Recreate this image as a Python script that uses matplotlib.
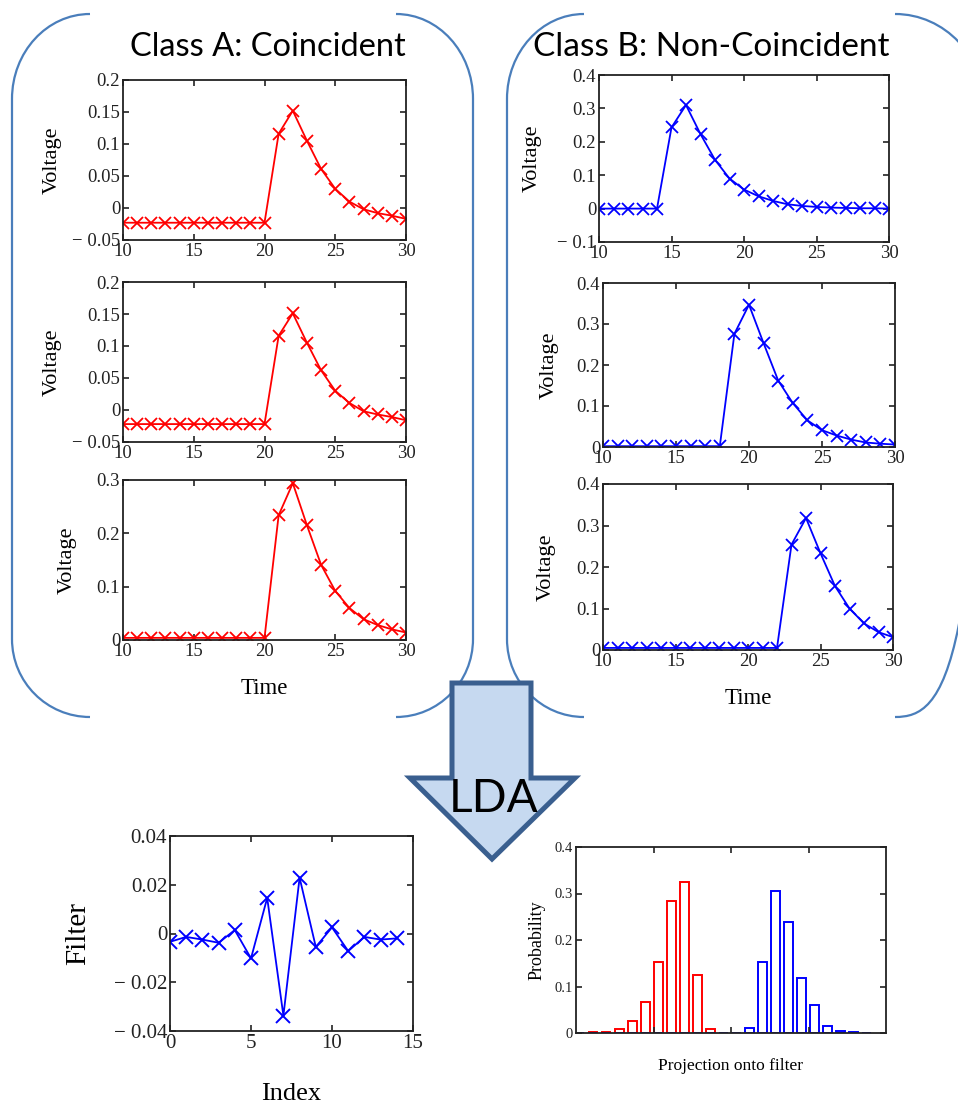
import numpy as np
import matplotlib
matplotlib.use("Agg")
import matplotlib.pyplot as plt
from matplotlib.path import Path
from matplotlib.patches import PathPatch, Polygon

plt.rcParams["font.family"] = ["Liberation Serif", "DejaVu Serif"]

# pulse samples, time steps 10..30
time = list(range(10, 31))
coinc_1 = [-0.023, -0.023, -0.023, -0.023, -0.023, -0.023, -0.023, -0.023, -0.023, -0.023, -0.023,
           0.116, 0.152, 0.105, 0.061, 0.030, 0.010, -0.002, -0.008, -0.012, -0.017]
coinc_2 = [-0.022, -0.022, -0.022, -0.022, -0.022, -0.022, -0.022, -0.022, -0.022, -0.022, -0.022,
           0.116, 0.151, 0.105, 0.062, 0.030, 0.011, -0.002, -0.007, -0.011, -0.016]
coinc_3 = [0.004, 0.004, 0.004, 0.004, 0.004, 0.004, 0.004, 0.004, 0.004, 0.004, 0.004,
           0.234, 0.294, 0.215, 0.141, 0.092, 0.060, 0.039, 0.028, 0.020, 0.014]
noncoinc_1 = [0.0, 0.0, 0.0, 0.0, 0.0,
              0.243, 0.310, 0.223, 0.146, 0.090, 0.057, 0.037, 0.023, 0.013, 0.008,
              0.005, 0.003, 0.002, 0.001, 0.001, 0.0]
noncoinc_2 = [0.002, 0.002, 0.002, 0.002, 0.002, 0.002, 0.002, 0.002, 0.002,
              0.276, 0.347, 0.253, 0.162, 0.107, 0.065, 0.041, 0.028, 0.018, 0.011, 0.008, 0.006]
noncoinc_3 = [0.005, 0.005, 0.005, 0.005, 0.005, 0.005, 0.005, 0.005, 0.005, 0.005, 0.005, 0.005, 0.005,
              0.254, 0.318, 0.233, 0.154, 0.100, 0.064, 0.043, 0.031]

# LDA filter weights
filter_index = list(range(0, 15))
filter_weights = [-0.0034, -0.0014, -0.0025, -0.0038, 0.0014, -0.0102, 0.0146, -0.0337,
                  0.0229, -0.0055, 0.0025, -0.0072, -0.0014, -0.0025, -0.0020]

# histogram of projections, one value per bin
proj_bins = list(range(0, 23))
prob_coinc = [0.0, 0.003, 0.003, 0.008, 0.025, 0.067, 0.152, 0.283, 0.325, 0.124, 0.008,
              0.0, 0.0, 0.0, 0.0, 0.0, 0.0, 0.0, 0.0, 0.0, 0.0, 0.0, 0.0]
prob_noncoinc = [0.0, 0.0, 0.0, 0.0, 0.0, 0.0, 0.0, 0.0, 0.0, 0.0, 0.0, 0.0, 0.0,
                 0.010, 0.152, 0.305, 0.238, 0.119, 0.061, 0.016, 0.005, 0.002, 0.0]

W, H = 958, 1108
fig = plt.figure(figsize=(W / 100, H / 100), dpi=100)

DARK = "#222222"
FRAME_BLUE = "#4A7EBB"
MINUS = "\u2212"


def add_panel(left, top, right, bottom):
    return fig.add_axes([left / W, 1 - bottom / H, (right - left) / W, (bottom - top) / H])


def style(ax, size):
    ax.tick_params(direction="in", top=True, right=True, length=4.5, width=1.2,
                   labelsize=size, pad=2, colors=DARK)
    for s in ax.spines.values():
        s.set_linewidth(1.3)
        s.set_color(DARK)


def fmt(v):
    if v == 0:
        return "0"
    s = "%g" % abs(v)
    return (MINUS + " " + s) if v < 0 else s


def pulse_panel(ax, y, color, ylim, yticks, ylab_x, xlabel=False):
    ax.plot(time, y, color=color, lw=1.3, marker="x", ms=8, mew=1.3)
    ax.set_xlim(10, 30)
    ax.set_ylim(*ylim)
    ax.set_xticks([10, 15, 20, 25, 30], [str(t) for t in [10, 15, 20, 25, 30]])
    ax.set_yticks(yticks, [fmt(v) for v in yticks])
    style(ax, 13.5)
    ax.set_ylabel("Voltage", fontsize=16, va="center")
    ax.yaxis.set_label_coords(ylab_x, 0.5)
    if xlabel:
        ax.set_xlabel("Time", fontsize=16.5, labelpad=13)


# background layer: brackets, titles and the LDA arrow
bg = fig.add_axes([0, 0, 1, 1])
bg.set_xlim(0, W)
bg.set_ylim(H, 0)
bg.axis("off")

K = 0.5523


def bracket(x_edge, x_end, top, bottom, ry_top=85, ry_bot=78):
    rx = x_end - x_edge
    verts = [(x_end, top),
             (x_end - K * rx, top), (x_edge, top + ry_top - K * ry_top), (x_edge, top + ry_top),
             (x_edge, bottom - ry_bot),
             (x_edge, bottom - ry_bot + K * ry_bot), (x_end - K * rx, bottom), (x_end, bottom)]
    codes = [Path.MOVETO, Path.CURVE4, Path.CURVE4, Path.CURVE4, Path.LINETO,
             Path.CURVE4, Path.CURVE4, Path.CURVE4]
    bg.add_patch(PathPatch(Path(verts, codes), fill=False, edgecolor=FRAME_BLUE, lw=1.6))


bracket(12, 90, 14, 717)
bracket(473, 396, 14, 717)
bracket(507, 584, 14, 717)
bracket(985, 895, 14, 717, ry_top=95, ry_bot=90)

bg.text(268, 47, "Class A: Coincident", fontsize=23.5, family=["Lato", "DejaVu Sans"],
        ha="center", va="center", color="black")
bg.text(711, 47, "Class B: Non-Coincident", fontsize=24, family=["Lato", "DejaVu Sans"],
        ha="center", va="center", color="black")

arrow = Polygon([(452, 683), (531, 683), (531, 778), (575, 778), (492, 859), (410, 778),
                 (452, 778)], closed=True, facecolor="#C6D9F0", edgecolor="#3A5F8F",
                lw=3.6, joinstyle="miter", zorder=5)
bg.add_patch(arrow)
bg.text(494, 799, "LDA", fontsize=33, family=["Lato", "DejaVu Sans"], ha="center",
        va="center", color="black", zorder=6)

# class A panels
ax = add_panel(123, 80, 406, 240)
pulse_panel(ax, coinc_1, "red", (-0.05, 0.2), [-0.05, 0, 0.05, 0.1, 0.15, 0.2], -0.251)
ax = add_panel(123, 282, 406, 442)
pulse_panel(ax, coinc_2, "red", (-0.05, 0.2), [-0.05, 0, 0.05, 0.1, 0.15, 0.2], -0.251)
ax = add_panel(123, 480, 406, 640)
pulse_panel(ax, coinc_3, "red", (0, 0.3), [0, 0.1, 0.2, 0.3], -0.198, xlabel=True)

# class B panels
ax = add_panel(599, 75, 889, 242)
pulse_panel(ax, noncoinc_1, "blue", (-0.1, 0.4), [-0.1, 0, 0.1, 0.2, 0.3, 0.4], -0.231)
ax = add_panel(603, 283, 895, 447)
pulse_panel(ax, noncoinc_2, "blue", (0, 0.4), [0, 0.1, 0.2, 0.3, 0.4], -0.185)
ax = add_panel(603, 484, 893, 650)
pulse_panel(ax, noncoinc_3, "blue", (0, 0.4), [0, 0.1, 0.2, 0.3, 0.4], -0.197, xlabel=True)

# filter weights
ax = add_panel(170, 836, 413, 1031)
ax.plot(filter_index, filter_weights, color="blue", lw=1.3, marker="x", ms=10, mew=1.4)
ax.set_xlim(0, 15)
ax.set_ylim(-0.04, 0.04)
ax.set_xticks([0, 5, 10, 15], ["0", "5", "10", "15"])
fticks = [-0.04, -0.02, 0, 0.02, 0.04]
ax.set_yticks(fticks, [fmt(v) for v in fticks])
style(ax, 15)
ax.set_ylabel("Filter", fontsize=21, va="center")
ax.yaxis.set_label_coords(-0.379, 0.5)
ax.set_xlabel("Index", fontsize=19, labelpad=22)

# projection histogram
ax = add_panel(576, 847, 886, 1033)
ax.bar(proj_bins, prob_coinc, width=0.64, fill=False, edgecolor="red", lw=1.4)
ax.bar(proj_bins, prob_noncoinc, width=0.64, fill=False, edgecolor="blue", lw=1.4)
ax.set_xlim(-0.33, 23.49)
ax.set_ylim(0, 0.4)
span = 23.49 + 0.33
ax.set_xticks([-0.33 + span * k / 4 for k in (1, 2, 3)], ["", "", ""])
hticks = [0, 0.1, 0.2, 0.3, 0.4]
ax.set_yticks(hticks, [fmt(v) for v in hticks])
style(ax, 10.5)
ax.set_ylabel("Probability", fontsize=13, va="center")
ax.yaxis.set_label_coords(-0.126, 0.5)
ax.set_xlabel("Projection onto filter", fontsize=12.5, labelpad=16)

fig.savefig("out.png", dpi=100)
